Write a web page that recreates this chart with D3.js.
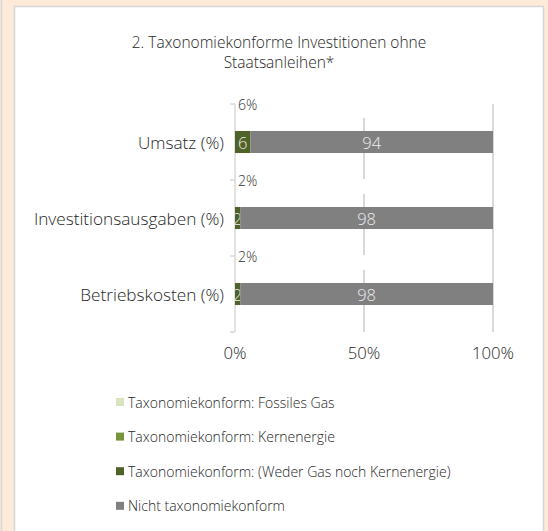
<!DOCTYPE html>
<html><head><meta charset="utf-8">
<script src="https://cdn.jsdelivr.net/npm/d3@7"></script>
<style>
body{margin:0;background:#fdead8;}
svg{display:block;font-family:"Open Sans", Lato, sans-serif;font-weight:300;}
</style>
</head><body><svg id="c" width="548" height="531"></svg>
<script>
const categories = ["Umsatz (%)", "Investitionsausgaben (%)", "Betriebskosten (%)"];
const seriesNames = ["Taxonomiekonform: Fossiles Gas", "Taxonomiekonform: Kernenergie", "Taxonomiekonform: (Weder Gas noch Kernenergie)", "Nicht taxonomiekonform"];
const fossilesGas = [0, 0, 0];
const kernenergie = [0, 0, 0];
const wederGasNochKern = [6, 2, 2];
const nichtKonform = [94, 98, 98];
const totalLabels = ["6%", "2%", "2%"];
const xTicks = [0, 50, 100];
const titleLines = ["2. Taxonomiekonforme Investitionen ohne", "Staatsanleihen*"];
const seriesColors = ["#d7e4bd", "#77933c", "#4f6228", "#808080"];

const seriesValues = [fossilesGas, kernenergie, wederGasNochKern, nichtKonform];
const rows = categories.map((c, i) => {
  const r = {cat: c};
  seriesNames.forEach((s, j) => r[s] = seriesValues[j][i]);
  return r;
});
const stacked = d3.stack().keys(seriesNames)(rows);

const svg = d3.select("#c");
// frame
svg.append("rect").attr("x", 0).attr("y", 0).attr("width", 548).attr("height", 531).attr("fill", "#fdead8");
svg.append("line").attr("x1", 1.5).attr("x2", 1.5).attr("y1", 0).attr("y2", 531).attr("stroke", "#d6d6d6").attr("stroke-width", 1.5);
svg.append("rect").attr("x", 14.5).attr("y", 6.5).attr("width", 529).attr("height", 540)
  .attr("fill", "#fff").attr("stroke", "#d6d6d6").attr("stroke-width", 1.5);

const x = d3.scaleLinear().domain([0, 100]).range([235, 493]);
const y = d3.scaleBand().domain(categories).range([104, 332]).paddingInner(0.71).paddingOuter(0.355);
const step = y.step();
const bw = y.bandwidth();
const top0 = y.range()[0], bot0 = y.range()[1];

// title
svg.append("text").attr("x", 279).attr("y", 48).attr("text-anchor", "middle")
  .attr("font-size", 15.5).attr("fill", "#262626")
  .selectAll("tspan").data(titleLines).join("tspan")
  .attr("x", 279).attr("dy", (d, i) => i ? 20 : 0).text(d => d);

// gridlines
const grid = svg.append("g");
grid.selectAll("line").data(xTicks.filter(t => t > 0)).join("line")
  .attr("x1", d => x(d)).attr("x2", d => x(d)).attr("y1", top0).attr("y2", bot0)
  .attr("stroke", "#d9d9d9").attr("stroke-width", 2);
grid.selectAll("rect.gap").data(categories).join("rect").attr("class", "gap")
  .attr("x", x(50) - 2).attr("width", 4)
  .attr("y", d => y(d) - 28).attr("height", 15).attr("fill", "#fff");

// category axis line + ticks at band boundaries
const ax = svg.append("g").attr("stroke", "#d9d9d9").attr("stroke-width", 1.5);
ax.append("line").attr("x1", x(0)).attr("x2", x(0)).attr("y1", top0).attr("y2", bot0);
ax.selectAll("line.t").data(d3.range(categories.length + 1)).join("line").attr("class", "t")
  .attr("x1", x(0) - 5).attr("x2", x(0)).attr("y1", i => top0 + i * step).attr("y2", i => top0 + i * step);

// bars
const clipId = "plotclip";
svg.append("clipPath").attr("id", clipId).append("rect")
  .attr("x", x(0)).attr("y", 0).attr("width", x(100) - x(0)).attr("height", 531);
const barsG = svg.append("g").attr("clip-path", `url(#${clipId})`);
stacked.forEach((layer, j) => {
  const g = barsG.append("g");
  layer.forEach(seg => {
    const w = x(seg[1]) - x(seg[0]);
    if (w <= 0) return;
    g.append("rect").attr("x", x(seg[0])).attr("y", y(seg.data.cat))
      .attr("width", w).attr("height", bw).attr("fill", seriesColors[j]);
    g.append("text").attr("x", (x(seg[0]) + x(seg[1])) / 2).attr("y", y(seg.data.cat) + bw / 2)
      .attr("text-anchor", "middle").attr("dominant-baseline", "central")
      .attr("font-size", 16.5).attr("fill", "#ededed").text(seg[1] - seg[0]);
  });
});

// total labels above bars
svg.selectAll("text.tot").data(categories).join("text").attr("class", "tot")
  .attr("x", x(0) + 3).attr("y", d => y(d) - 26)
  .attr("dominant-baseline", "central").attr("font-size", 14).attr("fill", "#333")
  .text((d, i) => totalLabels[i]);

// category labels
svg.selectAll("text.cat").data(categories).join("text").attr("class", "cat")
  .attr("x", 224).attr("y", d => y(d) + bw / 2).attr("text-anchor", "end")
  .attr("dominant-baseline", "central").attr("font-size", 17.2).attr("fill", "#262626").text(d => d);

// x axis labels
svg.selectAll("text.xt").data(xTicks).join("text").attr("class", "xt")
  .attr("x", d => x(d)).attr("y", 352).attr("text-anchor", "middle")
  .attr("dominant-baseline", "central").attr("font-size", 16.7).attr("fill", "#262626").text(d => d + "%");

// legend
const lg = svg.selectAll("g.lg").data(seriesNames).join("g").attr("class", "lg")
  .attr("transform", (d, i) => `translate(116, ${402 + i * 34.6})`);
lg.append("rect").attr("x", 0).attr("y", -4).attr("width", 8).attr("height", 8).attr("fill", (d, i) => seriesColors[i]);
lg.append("text").attr("x", 12).attr("y", 0).attr("dominant-baseline", "central")
  .attr("font-size", 14).attr("fill", "#262626").text(d => d);
</script>
</body></html>
